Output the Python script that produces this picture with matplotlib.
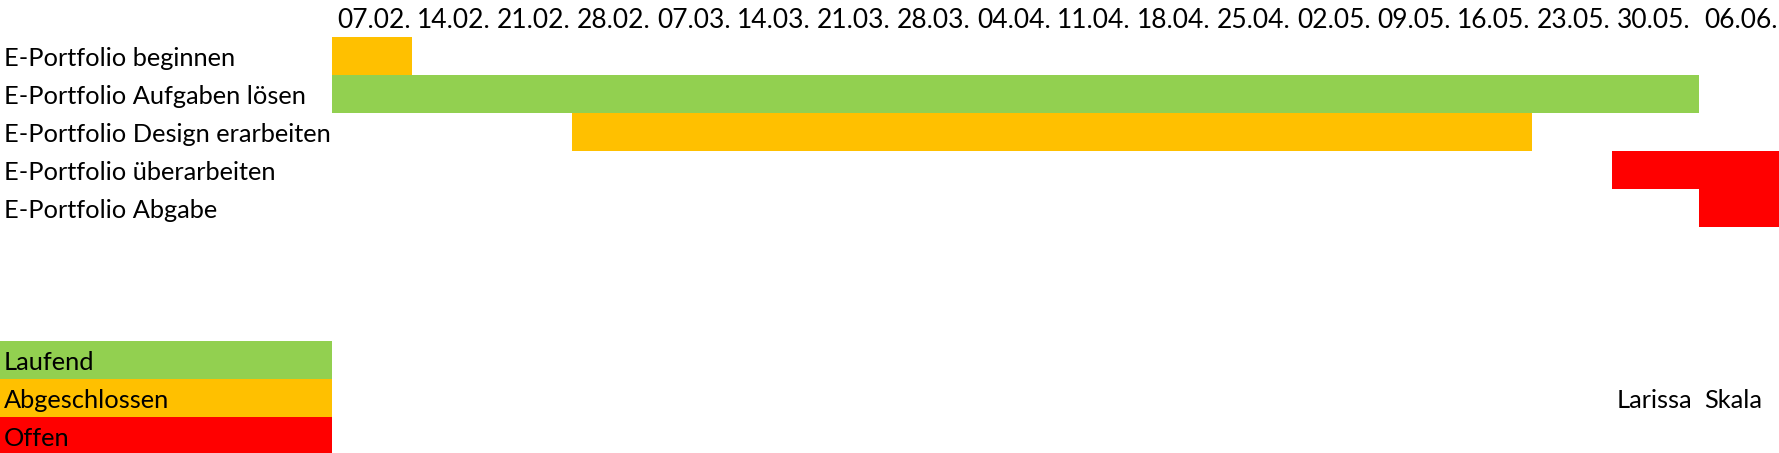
import numpy as np
import matplotlib
matplotlib.use("Agg")
import matplotlib.pyplot as plt
from matplotlib.transforms import ScaledTranslation

# week columns shown in the header row
weeks = ["07.02.", "14.02.", "21.02.", "28.02.", "07.03.", "14.03.", "21.03.",
         "28.03.", "04.04.", "11.04.", "18.04.", "25.04.", "02.05.", "09.05.",
         "16.05.", "23.05.", "30.05.", "06.06."]

tasks = ["E-Portfolio beginnen", "E-Portfolio Aufgaben lösen",
         "E-Portfolio Design erarbeiten", "E-Portfolio überarbeiten",
         "E-Portfolio Abgabe"]
task_start = ["07.02.", "07.02.", "28.02.", "30.05.", "06.06."]
task_weeks = [1, 17, 12, 2, 1]          # number of week columns filled
task_status = ["Abgeschlossen", "Laufend", "Abgeschlossen", "Offen", "Offen"]

status_labels = ["Laufend", "Abgeschlossen", "Offen"]
status_colors = {"Laufend": "#92D050", "Abgeschlossen": "#FFC000", "Offen": "#FF0000"}

author = ["Larissa", "Skala"]

W, H = 1779, 453
fig = plt.figure(figsize=(W / 100, H / 100), dpi=100)
ax = fig.add_axes([0, 0, 1, 1])
ax.axis("off")

# spreadsheet-like column widths (pixels): first column, then week columns
col_x = [-1, 0, 16, 17, 18]
col_px = [0, 332, 1612, 1699, 1779]
fwd = lambda x: np.interp(x, col_x, col_px)
inv = lambda p: np.interp(p, col_px, col_x)
ax.set_xscale("function", functions=(fwd, inv))
ax.set_xlim(-1, 18)

row_h = 38
top = 1 - 37 / row_h
ax.set_ylim(top + H / row_h, top)

plt.rcParams["font.family"] = ["Lato", "DejaVu Sans"]
fs = 18.3


def put(x, row, s, dx=5, size=fs):
    off = ScaledTranslation(dx / 100, 0, fig.dpi_scale_trans)
    ax.text(x, row + 0.75, s, fontsize=size, va="baseline", ha="left",
            color="black", transform=ax.transData + off)


# header
for i, w in enumerate(weeks):
    put(i, 0, w, dx=5, size=fs + 0.7)

# task rows
for i, t in enumerate(tasks):
    row = i + 1
    start = weeks.index(task_start[i])
    ax.barh(row + 0.5, task_weeks[i], left=start, height=1.0,
            color=status_colors[task_status[i]], linewidth=0)
    put(-1, row, t, dx=4)

# legend block
for i, s in enumerate(status_labels):
    row = 9 + i
    ax.barh(row + 0.5, 1, left=-1, height=1.0, color=status_colors[s], linewidth=0)
    put(-1, row, s, dx=4)

put(16, 10, author[0], dx=5)
put(17, 10, author[1], dx=5)

fig.savefig("out.png", dpi=100)
